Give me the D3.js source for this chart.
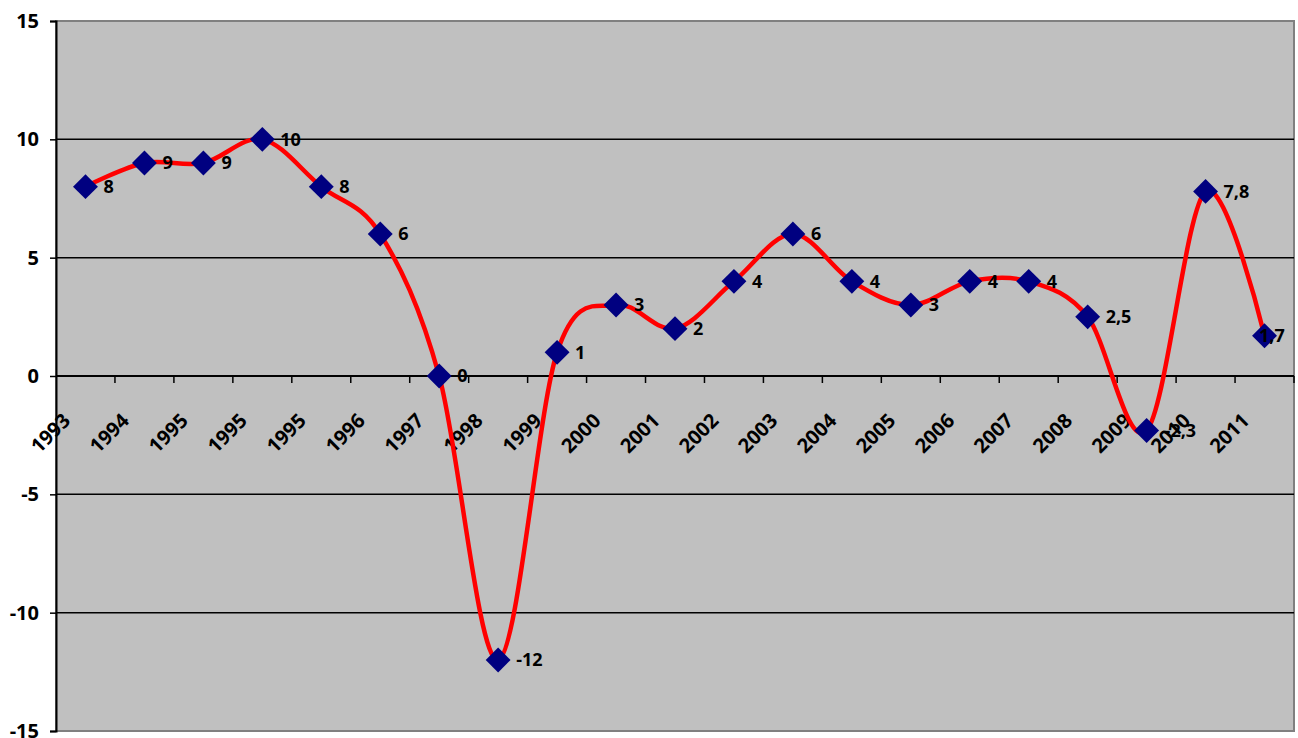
<!DOCTYPE html>
<html>
<head>
<meta charset="utf-8">
<script src="https://cdn.jsdelivr.net/npm/d3@7"></script>
<style>
  body { margin: 0; background: #fff; }
  svg { display: block; }
  text { font-family: "Open Sans", "DejaVu Sans", sans-serif; font-weight: bold; fill: #000; }
</style>
</head>
<body>
<svg id="chart"></svg>
<script>
var years = ["1993", "1994", "1995", "1995", "1995", "1996", "1997", "1998", "1999", "2000",
             "2001", "2002", "2003", "2004", "2005", "2006", "2007", "2008", "2009", "2010", "2011"];
var values = [8, 9, 9, 10, 8, 6, 0, -12, 1, 3, 2, 4, 6, 4, 3, 4, 4, 2.5, -2.3, 7.8, 1.7];
var yTicks = [-15, -10, -5, 0, 5, 10, 15];

var dimensions = {
    width: 1298,
    height: 738,
    margin: { top: 21, bottom: 7, left: 56, right: 4 }
};

var svg = d3.select("#chart")
    .attr("width", dimensions.width)
    .attr("height", dimensions.height);

var plotLeft = dimensions.margin.left;
var plotRight = dimensions.width - dimensions.margin.right;
var plotTop = dimensions.margin.top;
var plotBottom = dimensions.height - dimensions.margin.bottom;

// band per category, so the ticks fall between the years
var xScale = d3.scaleBand()
    .domain(d3.range(years.length))
    .range([plotLeft, plotRight]);

var yScale = d3.scaleLinear()
    .domain([-15, 15])
    .range([plotBottom, plotTop]);

function cx(i) { return xScale(i) + xScale.bandwidth() / 2; }

// plot area
svg.append("rect")
    .attr("x", plotLeft)
    .attr("y", plotTop)
    .attr("width", plotRight - plotLeft)
    .attr("height", plotBottom - plotTop)
    .attr("fill", "#c0c0c0")
    .attr("stroke", "#808080")
    .attr("stroke-width", 2);

// horizontal grid
svg.append("g")
    .selectAll("line")
    .data(yTicks.filter(function (d) { return d !== 15 && d !== -15 && d !== 0; }))
    .enter()
    .append("line")
    .attr("x1", plotLeft)
    .attr("x2", plotRight)
    .attr("y1", function (d) { return yScale(d); })
    .attr("y2", function (d) { return yScale(d); })
    .attr("stroke", "#000")
    .attr("stroke-width", 1.5);

// y axis (plain hyphen for negatives, like the original)
var yAxis = svg.append("g")
    .attr("transform", "translate(" + plotLeft + ",0)")
    .call(d3.axisLeft(yScale)
        .tickValues(yTicks)
        .tickFormat(function (d) { return String(d); })
        .tickSize(6)
        .tickPadding(11));
yAxis.select(".domain").attr("stroke", "#000").attr("stroke-width", 2);
yAxis.selectAll(".tick line").attr("stroke", "#000").attr("stroke-width", 1.5);
yAxis.selectAll("text")
    .style("font-size", "20px")
    .style("font-family", "'Open Sans', sans-serif")
    .style("font-weight", "bold")
    .attr("fill", "#000");

// x axis on zero line
var y0 = yScale(0);
svg.append("line")
    .attr("x1", plotLeft).attr("x2", plotRight)
    .attr("y1", y0).attr("y2", y0)
    .attr("stroke", "#000")
    .attr("stroke-width", 2);

svg.append("g")
    .selectAll("line")
    .data(d3.range(1, years.length + 1))
    .enter()
    .append("line")
    .attr("x1", function (i) { return plotLeft + i * xScale.step(); })
    .attr("x2", function (i) { return plotLeft + i * xScale.step(); })
    .attr("y1", y0)
    .attr("y2", y0 + 7)
    .attr("stroke", "#000")
    .attr("stroke-width", 1.5);

svg.append("g")
    .selectAll("text")
    .data(years)
    .enter()
    .append("text")
    .attr("transform", function (d, i) {
        return "translate(" + (cx(i) - 14) + "," + (y0 + 46) + ") rotate(-45)";
    })
    .attr("text-anchor", "end")
    .style("font-size", "20px")
    .text(function (d) { return d; });

// smoothed line
var line = d3.line()
    .x(function (d, i) { return cx(i); })
    .y(function (d) { return yScale(d); })
    .curve(d3.curveCatmullRom.alpha(0));

svg.append("path")
    .datum(values)
    .attr("d", line)
    .attr("fill", "none")
    .attr("stroke", "#ff0000")
    .attr("stroke-width", 4.5)
    .attr("stroke-linejoin", "round");

// diamond markers
var diamond = d3.symbol().type(d3.symbolSquare).size(310);
svg.append("g")
    .selectAll("path")
    .data(values)
    .enter()
    .append("path")
    .attr("d", diamond)
    .attr("transform", function (d, i) {
        return "translate(" + cx(i) + "," + yScale(d) + ") rotate(45)";
    })
    .attr("fill", "#000080");

// data labels
svg.append("g")
    .selectAll("text")
    .data(values)
    .enter()
    .append("text")
    .attr("x", function (d, i) { return Math.min(cx(i) + 18, plotRight - 35); })
    .attr("y", function (d) { return yScale(d); })
    .attr("dy", "0.35em")
    .style("font-size", "18px")
    .text(function (d) { return String(d).replace(".", ","); });
</script>
</body>
</html>
